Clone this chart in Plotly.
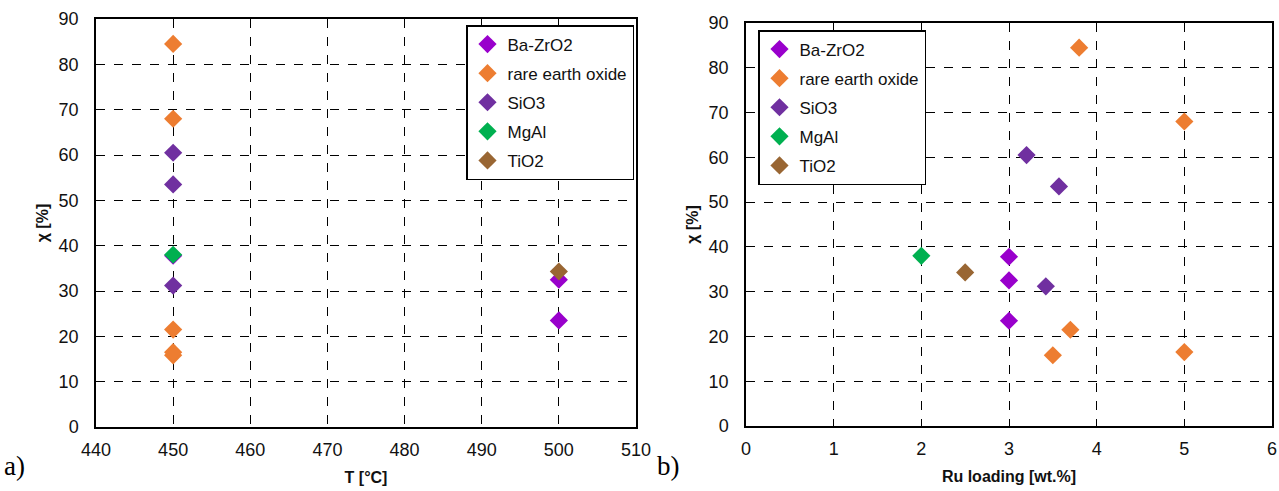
import plotly.graph_objects as go

# ---- data ----
series_names = ["Ba-ZrO2", "rare earth oxide", "SiO3", "MgAl", "TiO2"]
series_colors = ["#9900CC", "#ED7D31", "#7030A0", "#00B050", "#996633"]

# conversion chi [%] per series
ba_chi = [37.8, 32.5, 23.5]
re_chi = [84.5, 68.0, 21.5, 15.8, 16.5]
si_chi = [60.5, 53.5, 31.2]
mg_chi = [38.0]
ti_chi = [34.3]

# temperature [°C]
ba_T = [450, 500, 500]
re_T = [450, 450, 450, 450, 450]
si_T = [450, 450, 450]
mg_T = [450]
ti_T = [500]

# Ru loading [wt.%]
ba_ru = [3.0, 3.0, 3.0]
re_ru = [3.8, 5.0, 3.7, 3.5, 5.0]
si_ru = [3.2, 3.57, 3.42]
mg_ru = [2.0]
ti_ru = [2.5]

chi_all = [ba_chi, re_chi, si_chi, mg_chi, ti_chi]
T_all = [ba_T, re_T, si_T, mg_T, ti_T]
ru_all = [ba_ru, re_ru, si_ru, mg_ru, ti_ru]

fig = go.Figure()
for i, name in enumerate(series_names):
    fig.add_trace(go.Scatter(
        x=T_all[i], y=chi_all[i], mode="markers", name=name,
        marker=dict(symbol="diamond", size=14, color=series_colors[i], line=dict(width=0)),
        xaxis="x", yaxis="y", legend="legend", legendgroup="a" + str(i)))
for i, name in enumerate(series_names):
    fig.add_trace(go.Scatter(
        x=ru_all[i], y=chi_all[i], mode="markers", name=name,
        marker=dict(symbol="diamond", size=14, color=series_colors[i], line=dict(width=0)),
        xaxis="x2", yaxis="y2", legend="legend2", legendgroup="b" + str(i)))

W, H = 1279, 491
tickfont = dict(family="Liberation Sans, Arial", size=18, color="#111")
titlefont = dict(family="Liberation Sans, Arial", size=16, color="#111", weight="bold")
common_ax = dict(showline=True, linecolor="black", linewidth=1.5, mirror=True,
                 showgrid=True, gridcolor="black", griddash="dash", gridwidth=1,
                 ticks="", tickfont=tickfont,
                 zeroline=False, automargin=False)

fig.update_layout(
    width=W, height=H,
    margin=dict(l=0, r=0, t=0, b=0),
    paper_bgcolor="white", plot_bgcolor="white",
    xaxis=dict(common_ax, domain=[96/W, 636/W], range=[440, 510], dtick=10,
               ticklabelstandoff=6,
               title=dict(text="T [°C]", font=titlefont, standoff=12), anchor="y"),
    yaxis=dict(common_ax, domain=[1-427/H, 1-19/H], range=[0, 90], dtick=10,
               ticklabelstandoff=12,
               title=dict(text="χ [%]", font=titlefont, standoff=6), anchor="x"),
    xaxis2=dict(common_ax, domain=[746/W, 1272/W], range=[0, 6], dtick=1,
                ticklabelstandoff=6,
                title=dict(text="Ru loading [wt.%]", font=titlefont, standoff=12), anchor="y2",
                ticklabeloverflow="allow"),
    yaxis2=dict(common_ax, domain=[1-426/H, 1-23/H], range=[0, 90], dtick=10,
                ticklabelstandoff=12,
                title=dict(text="χ [%]", font=titlefont, standoff=6), anchor="x2"),
    legend=dict(x=466/W, y=1-25/H, xanchor="left", yanchor="top",
                bgcolor="white", bordercolor="black", borderwidth=1.5,
                font=dict(family="Liberation Sans, Arial", size=17, color="#111"),
                tracegroupgap=4, itemwidth=30),
    legend2=dict(x=758/W, y=1-30/H, xanchor="left", yanchor="top",
                 bgcolor="white", bordercolor="black", borderwidth=1.5,
                 font=dict(family="Liberation Sans, Arial", size=17, color="#111"),
                 tracegroupgap=4, itemwidth=30),
    showlegend=True,
    annotations=[
        dict(text="a)", x=2/W, y=1-466/H, xref="paper", yref="paper",
             xanchor="left", yanchor="middle", showarrow=False,
             font=dict(family="Liberation Serif, Times New Roman", size=27, color="black")),
        dict(text="b)", x=655/W, y=1-466/H, xref="paper", yref="paper",
             xanchor="left", yanchor="middle", showarrow=False,
             font=dict(family="Liberation Serif, Times New Roman", size=27, color="black")),
    ],
)

fig.write_html("out.html", config={"displayModeBar": False},
               post_script="document.body.style.margin='0px';")
